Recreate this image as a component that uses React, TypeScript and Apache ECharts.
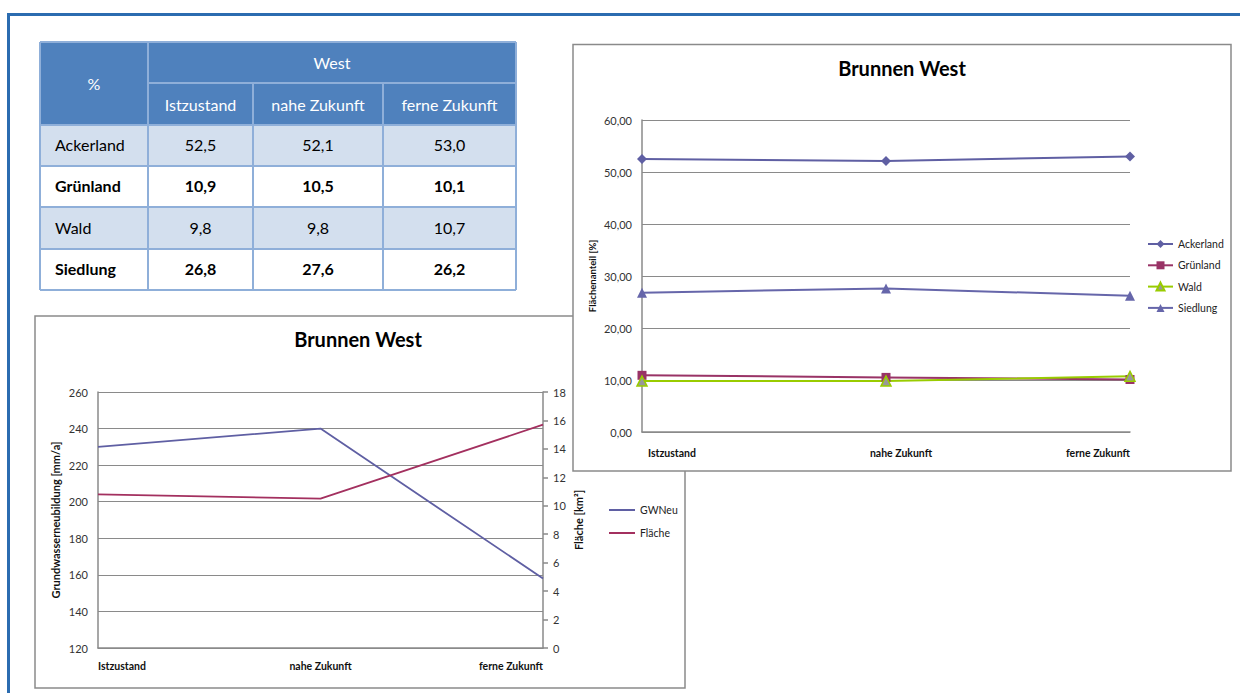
import React, { useEffect, useRef } from "react";
import * as echarts from "echarts";

// ---------- data ----------
const categories = ["Istzustand", "nahe Zukunft", "ferne Zukunft"];
const landUseNames = ["Ackerland", "Grünland", "Wald", "Siedlung"];
const ackerland = [52.5, 52.1, 53.0];
const gruenland = [10.9, 10.5, 10.1];
const wald = [9.8, 9.8, 10.7];
const siedlung = [26.8, 27.6, 26.2];
const gwNeu = [230, 240, 158];
const flaeche = [10.8, 10.5, 15.7];
const tableHeader = "West";
const tableCorner = "%";

// ---------- layout constants ----------
const FONT = "Lato";
const colX = [40, 148, 253, 383, 516];
const rowY = [42, 83, 125, 166, 207, 249, 290];
const frameColor = "#8a8a8a";
const gridColor = "#8a8a8a";
const tableBorder = "#8fafd9";

const fmt1 = (v: number) => v.toFixed(1).replace(".", ",");
const fmt2 = (v: number) => v.toFixed(2).replace(".", ",");

function buildTable(): any[] {
  const els: any[] = [];
  const tableValues = [ackerland, gruenland, wald, siedlung];
  els.push({
    type: "rect",
    shape: { x: colX[0], y: rowY[0], width: colX[4] - colX[0], height: rowY[2] - rowY[0] },
    style: { fill: "#4f81bd" },
    z: 10,
  });
  for (let r = 0; r < landUseNames.length; r++) {
    els.push({
      type: "rect",
      shape: { x: colX[0], y: rowY[r + 2], width: colX[4] - colX[0], height: rowY[r + 3] - rowY[r + 2] },
      style: { fill: r % 2 === 0 ? "#d3dfee" : "#ffffff" },
      z: 10,
    });
  }
  const hline = (x1: number, x2: number, y: number) =>
    els.push({ type: "line", shape: { x1, y1: y, x2, y2: y }, style: { stroke: tableBorder, lineWidth: 2 }, z: 11 });
  const vline = (x: number, y1: number, y2: number) =>
    els.push({ type: "line", shape: { x1: x, y1, x2: x, y2 }, style: { stroke: tableBorder, lineWidth: 2 }, z: 11 });
  hline(colX[0], colX[4], rowY[0]);
  hline(colX[1], colX[4], rowY[1]);
  for (let i = 2; i < rowY.length; i++) hline(colX[0], colX[4], rowY[i]);
  vline(colX[0], rowY[0], rowY[6]);
  vline(colX[1], rowY[0], rowY[6]);
  vline(colX[2], rowY[1], rowY[6]);
  vline(colX[3], rowY[1], rowY[6]);
  vline(colX[4], rowY[0], rowY[6]);

  const txt = (text: string, x: number, y: number, color: string, bold: boolean, align = "center") =>
    els.push({
      type: "text",
      x,
      y,
      style: {
        text,
        fill: color,
        font: `${bold ? "bold " : ""}16px ${FONT}`,
        textAlign: align,
        textVerticalAlign: "middle",
      },
      z: 12,
    });
  txt(tableCorner, (colX[0] + colX[1]) / 2, (rowY[0] + rowY[2]) / 2, "#ffffff", false);
  txt(tableHeader, (colX[1] + colX[4]) / 2, (rowY[0] + rowY[1]) / 2, "#ffffff", false);
  categories.forEach((c, i) => txt(c, (colX[i + 1] + colX[i + 2]) / 2, (rowY[1] + rowY[2]) / 2, "#ffffff", false));
  landUseNames.forEach((name, r) => {
    const bold = r % 2 === 1;
    const cy = (rowY[r + 2] + rowY[r + 3]) / 2 - 1;
    txt(name, colX[0] + 15, cy, "#000000", bold, "left");
    tableValues[r].forEach((v, c) => txt(fmt1(v), (colX[c + 1] + colX[c + 2]) / 2, cy, "#000000", bold));
  });
  return els;
}

export default function App() {
  const ref = useRef<HTMLDivElement>(null);
  useEffect(() => {
    if (!ref.current) return;
    const chart = echarts.init(ref.current, null, { renderer: "svg" });

    const graphics: any[] = [
      { type: "rect", shape: { x: 7, y: 13, width: 1233, height: 3 }, style: { fill: "#2b6cb0" }, z: 1 },
      { type: "rect", shape: { x: 7, y: 13, width: 3, height: 680 }, style: { fill: "#2b6cb0" }, z: 1 },
      {
        type: "polyline",
        shape: { points: [[573, 316], [35, 316], [35, 688], [685, 688], [685, 471]] },
        style: { stroke: frameColor, lineWidth: 1.5, fill: null },
        z: 1,
      },
      {
        type: "rect",
        shape: { x: 573, y: 44.5, width: 658, height: 426.5 },
        style: { stroke: frameColor, lineWidth: 1.5, fill: null },
        z: 1,
      },
      {
        type: "text",
        x: 902,
        y: 68,
        style: { text: "Brunnen West", font: `bold 20px ${FONT}`, fill: "#000", textAlign: "center", textVerticalAlign: "middle" },
        z: 5,
      },
      {
        type: "text",
        x: 358,
        y: 339,
        style: { text: "Brunnen West", font: `bold 20px ${FONT}`, fill: "#000", textAlign: "center", textVerticalAlign: "middle" },
        z: 5,
      },
      ...buildTable(),
    ];

    const axisLineStyle = { color: gridColor, width: 1.5 };

    const option: any = {
      animation: false,
      backgroundColor: "#ffffff",
      textStyle: { fontFamily: FONT },
      graphic: { elements: graphics },
      grid: [
        { left: 642, top: 120, width: 488, height: 312, outerBoundsMode: "none" },
        { left: 98, top: 392, width: 445, height: 256, outerBoundsMode: "none" },
      ],
      legend: [
        {
          data: landUseNames,
          orient: "vertical",
          left: 1147,
          top: 238,
          padding: 0,
          itemWidth: 25,
          itemHeight: 10,
          itemGap: 9.3,
          textStyle: { fontFamily: FONT, fontSize: 10.5, color: "#222", lineHeight: 12 },
        },
        {
          data: ["GWNeu", "Fläche"],
          orient: "vertical",
          left: 609,
          top: 504,
          padding: 0,
          icon: "rect",
          itemWidth: 26,
          itemHeight: 2,
          itemGap: 11,
          textStyle: { fontFamily: FONT, fontSize: 10.5, color: "#222", lineHeight: 12 },
        },
      ],
      xAxis: [
        {
          gridIndex: 0,
          type: "category",
          data: categories,
          boundaryGap: false,
          axisLine: { lineStyle: axisLineStyle },
          axisTick: { show: false },
          splitLine: { show: false },
          axisLabel: {
            interval: 0,
            margin: 15,
            fontFamily: FONT,
            fontSize: 10.5,
            fontWeight: "bold",
            color: "#111",
            alignMinLabel: "left",
            alignMaxLabel: "right",
            formatter: (v: string, i: number) => (i === 0 ? `{a|${v}}` : i === 1 ? `{m|${v}}` : v),
            rich: {
              a: { padding: [0, 0, 0, 6], fontFamily: FONT, fontSize: 10.5, fontWeight: "bold", color: "#111" },
              m: { padding: [0, 0, 0, 30], fontFamily: FONT, fontSize: 10.5, fontWeight: "bold", color: "#111" },
            },
          },
        },
        {
          gridIndex: 1,
          type: "category",
          data: categories,
          boundaryGap: false,
          axisLine: { lineStyle: axisLineStyle },
          axisTick: { show: false },
          splitLine: { show: false },
          axisLabel: {
            interval: 0,
            margin: 12,
            fontFamily: FONT,
            fontSize: 10.5,
            fontWeight: "bold",
            color: "#111",
            alignMinLabel: "left",
            alignMaxLabel: "right",
          },
        },
      ],
      yAxis: [
        {
          gridIndex: 0,
          type: "value",
          min: 0,
          max: 60,
          interval: 10,
          axisLine: { show: true, lineStyle: axisLineStyle },
          axisTick: { show: false },
          splitLine: { show: true, lineStyle: { color: gridColor, width: 1 } },
          axisLabel: { margin: 10, fontFamily: FONT, fontSize: 11, color: "#333", formatter: (v: number) => fmt2(v) },
          name: "Flächenanteil [%]",
          nameLocation: "middle",
          nameRotate: 90,
          nameGap: 45,
          nameTextStyle: { fontFamily: FONT, fontSize: 9.5, fontWeight: "bold", color: "#111" },
        },
        {
          gridIndex: 1,
          type: "value",
          min: 120,
          max: 260,
          interval: 20,
          axisLine: { show: true, lineStyle: axisLineStyle },
          axisTick: { show: false },
          splitLine: { show: true, lineStyle: { color: gridColor, width: 1 } },
          axisLabel: { margin: 10, fontFamily: FONT, fontSize: 11, color: "#333" },
          name: "Grundwasserneubildung [mm/a]",
          nameLocation: "middle",
          nameRotate: 90,
          nameGap: 37,
          nameTextStyle: { fontFamily: FONT, fontSize: 11, fontWeight: "bold", color: "#111" },
        },
        {
          gridIndex: 1,
          type: "value",
          position: "right",
          min: 0,
          max: 18,
          interval: 2,
          axisLine: { show: true, lineStyle: axisLineStyle },
          axisTick: { show: true, inside: false, length: 5, lineStyle: { color: gridColor, width: 1.5 } },
          splitLine: { show: false },
          axisLabel: { margin: 10, fontFamily: FONT, fontSize: 11, color: "#333" },
          name: "Fläche [km²]",
          nameLocation: "middle",
          nameRotate: 90,
          nameGap: 30,
          nameTextStyle: { fontFamily: FONT, fontSize: 11, fontWeight: "bold", color: "#111" },
        },
      ],
      series: [
        {
          name: "Ackerland",
          type: "line",
          xAxisIndex: 0,
          yAxisIndex: 0,
          data: ackerland,
          symbol: "diamond",
          symbolSize: 10,
          lineStyle: { width: 2, color: "#5f5fa3" },
          itemStyle: { color: "#5f5fa3" },
        },
        {
          name: "Grünland",
          type: "line",
          xAxisIndex: 0,
          yAxisIndex: 0,
          data: gruenland,
          symbol: "rect",
          symbolSize: 9,
          lineStyle: { width: 2, color: "#993366" },
          itemStyle: { color: "#993366" },
        },
        {
          name: "Wald",
          type: "line",
          xAxisIndex: 0,
          yAxisIndex: 0,
          data: wald,
          symbol: "triangle",
          symbolSize: 10,
          lineStyle: { width: 2, color: "#99cc00" },
          itemStyle: { color: "#999999", borderColor: "#99cc00", borderWidth: 1.5 },
        },
        {
          name: "Siedlung",
          type: "line",
          xAxisIndex: 0,
          yAxisIndex: 0,
          data: siedlung,
          symbol: "triangle",
          symbolSize: 10,
          lineStyle: { width: 2, color: "#6666aa" },
          itemStyle: { color: "#6666aa" },
        },
        {
          name: "GWNeu",
          type: "line",
          xAxisIndex: 1,
          yAxisIndex: 1,
          data: gwNeu,
          symbol: "none",
          lineStyle: { width: 1.8, color: "#5f5fa3" },
          itemStyle: { color: "#5f5fa3" },
        },
        {
          name: "Fläche",
          type: "line",
          xAxisIndex: 1,
          yAxisIndex: 2,
          data: flaeche,
          symbol: "none",
          lineStyle: { width: 1.8, color: "#a3305f" },
          itemStyle: { color: "#a3305f" },
        },
      ],
    };

    chart.setOption(option);
    return () => chart.dispose();
  }, []);

  return (
    <div
      ref={ref}
      style={{ position: "fixed", left: 0, top: 0, width: 1240, height: 693, background: "#fff" }}
    />
  );
}
